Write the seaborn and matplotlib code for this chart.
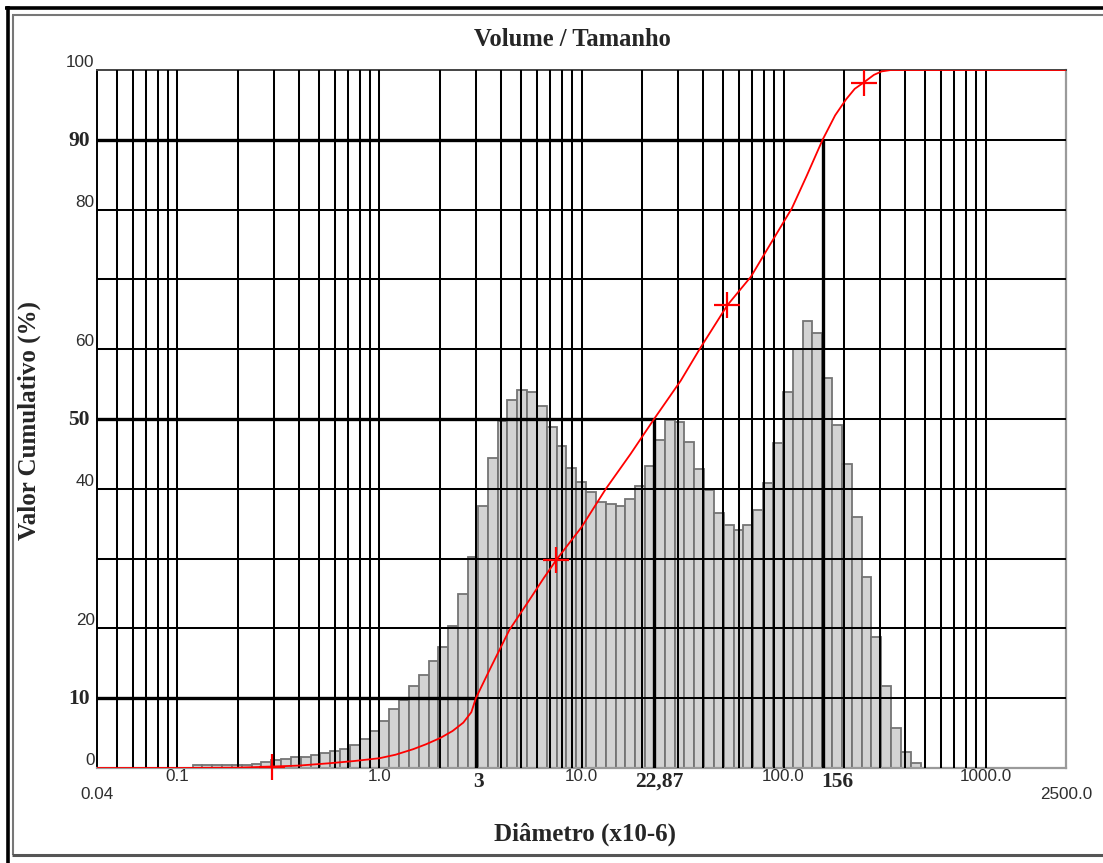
import numpy as np
import pandas as pd
import matplotlib
matplotlib.use("Agg")
import matplotlib.pyplot as plt
from matplotlib.ticker import FixedLocator, NullFormatter
from matplotlib.lines import Line2D
import seaborn as sns

# ---------------- data ----------------
# geometric size classes (um)
class_lo = 0.1188
class_hi = 476.6
n_classes = 74
# histogram heights per class (same % axis as the cumulative curve)
volume_pct = [
    0.4, 0.5, 0.5, 0.5, 0.5, 0.5, 0.6, 0.9, 1.1, 1.3,
    1.6, 1.6, 1.9, 2.2, 2.5, 2.7, 3.3, 4.2, 5.3, 6.7,
    8.4, 9.7, 11.7, 13.3, 15.4, 17.3, 20.3, 24.9, 30.3, 37.5,
    44.4, 49.7, 52.7, 54.2, 53.9, 51.8, 48.9, 46.1, 43.0, 41.0,
    39.6, 38.1, 37.8, 37.5, 38.6, 40.4, 43.3, 47.0, 49.9, 49.6,
    46.7, 42.8, 39.8, 36.6, 34.8, 34.1, 34.8, 36.9, 40.9, 46.6,
    53.8, 60.0, 64.0, 62.3, 55.9, 49.2, 43.5, 36.0, 27.4, 18.8,
    11.8, 5.8, 2.3, 0.7,
]

# cumulative curve
cum_diam = [0.04, 0.1, 0.2, 0.294, 0.4, 0.56, 0.75, 1.0, 1.2, 1.47,
            1.7, 2.0, 2.3, 2.6, 2.85, 3.0, 3.5, 4.4, 5.5, 6.5,
            7.5, 10.0, 13.2, 17.5, 22.87, 31.0, 38.4, 52.7, 69.0, 85.0,
            110.0, 130.0, 156.0, 180.0, 204.0, 225.0, 249.0, 280.0, 306.0, 340.0,
            2500.0]
cum_pct = [0.0, 0.0, 0.05, 0.2, 0.35, 0.67, 1.0, 1.4, 1.9, 2.7,
           3.4, 4.3, 5.3, 6.5, 8.0, 10.0, 14.0, 19.8, 24.0, 27.2,
           29.8, 34.5, 40.0, 45.0, 50.0, 55.5, 60.0, 66.3, 70.4, 74.8,
           80.2, 84.8, 90.0, 93.5, 95.8, 97.3, 98.2, 99.3, 99.8, 100.0,
           100.0]

marker_diam = [0.294, 7.5, 52.7, 249.0]
marker_pct = [0.2, 29.8, 66.3, 98.2]

d_vals = [3.0, 22.87, 156.0]
d_labels = ["3", "22,87", "156"]
p_vals = [10, 50, 90]

xtick_vals = [0.04, 0.1, 1.0, 10.0, 100.0, 1000.0, 2500.0]
xtick_labels = ["0.04", "0.1", "1.0", "10.0", "100.0", "1000.0", "2500.0"]
ytick_vals = [0, 20, 40, 60, 80, 100]

title = "Volume / Tamanho"
xlabel = "Diâmetro (x10-6)"
ylabel = "Valor Cumulativo (%)"

# ---------------- style ----------------
sns.set_style("white")
plt.rcParams["font.family"] = ["Liberation Sans", "DejaVu Sans"]
SERIF = ["Liberation Serif", "DejaVu Serif"]
SANS = ["Liberation Sans", "DejaVu Sans"]

W, H = 1103, 863
fig = plt.figure(figsize=(W / 100, H / 100), dpi=100, facecolor="white")
L, R, T, B = 97, 1066, 70, 768
ax = fig.add_axes([L / W, (H - B) / H, (R - L) / W, (B - T) / H])
ax.set_facecolor("white")

edges = np.geomspace(class_lo, class_hi, n_classes + 1)
centers = np.sqrt(edges[:-1] * edges[1:])
df_hist = pd.DataFrame({"diam": centers, "vol": volume_pct})
sns.histplot(data=df_hist, x="diam", weights="vol",
             bins=[float(v) for v in np.log10(edges)],
             log_scale=True, stat="count", ax=ax, color="#d3d3d3",
             edgecolor="#747474", linewidth=1.3, alpha=1.0, zorder=1)

ax.set_xscale("log")
ax.set_xlim(0.04, 2500)
ax.set_ylim(0, 100)

# grid
grid_x = [m * 10.0 ** e for e in range(-2, 3) for m in range(1, 10)
          if 0.045 < m * 10.0 ** e < 1001] + [1000.0]
ax.xaxis.remove_overlapping_locs = False
ax.yaxis.remove_overlapping_locs = False
ax.xaxis.set_major_locator(FixedLocator(xtick_vals))
ax.set_xticklabels(xtick_labels)
ax.xaxis.set_minor_locator(FixedLocator(grid_x))
ax.xaxis.set_minor_formatter(NullFormatter())
ax.yaxis.set_major_locator(FixedLocator(ytick_vals))
ax.set_yticklabels([str(v) for v in ytick_vals])
ax.yaxis.set_minor_locator(FixedLocator(list(range(10, 100, 10))))
ax.yaxis.set_minor_formatter(NullFormatter())
ax.set_axisbelow(False)
ax.grid(False)
ax.grid(which="minor", axis="both", color="black", linewidth=1.45, zorder=2.5)
ax.tick_params(axis="both", which="both", length=0)
ax.tick_params(axis="x", which="major", pad=1.0, labelsize=12.3, labelcolor="#2e2e2e")
ax.tick_params(axis="y", which="major", pad=1.7, labelsize=12.3, labelcolor="#2e2e2e")
for lab in ax.get_yticklabels():
    lab.set_verticalalignment("bottom")
    lab.set_family(SANS)
for lab in ax.get_xticklabels():
    lab.set_family(SANS)
xt = ax.xaxis.get_major_ticks()
xt[0].set_pad(13.5)
xt[-1].set_pad(13.5)

for side, col, lw in [("left", "black", 1.4), ("top", "#444444", 1.4),
                      ("right", "#9a9a9a", 1.6), ("bottom", "#9a9a9a", 1.6)]:
    ax.spines[side].set_visible(True)
    ax.spines[side].set_color(col)
    ax.spines[side].set_linewidth(lw)

ax.set_xlabel("")
ax.set_ylabel("")

# reference lines (d10, d50, d90)
for d, p in zip(d_vals, p_vals):
    ax.plot([0.04, d], [p, p], color="black", linewidth=2.4, zorder=3,
            solid_capstyle="butt")
    ax.plot([d, d], [0, p], color="black", linewidth=2.4, zorder=3,
            solid_capstyle="butt")

# cumulative curve
df_cum = pd.DataFrame({"d": cum_diam, "p": cum_pct})
sns.lineplot(data=df_cum, x="d", y="p", color="#ff0000", linewidth=1.3,
             sort=False, estimator=None, ax=ax, zorder=4)
df_mk = pd.DataFrame({"d": marker_diam, "p": marker_pct})
sns.scatterplot(data=df_mk, x="d", y="p", marker="+", s=360, color="#ff0000",
                linewidth=1.6, ax=ax, zorder=5, clip_on=False)
ax.set_xlabel("")
ax.set_ylabel("")

# bold labels
for p in p_vals:
    ax.annotate(str(p), xy=(0, p), xycoords=ax.get_yaxis_transform(),
                xytext=(-7, -1), textcoords="offset pixels", ha="right",
                va="center", fontsize=15.5, fontweight="bold", family=SERIF,
                annotation_clip=False)
label_dx = [2.5, 5, 14.5]
for d, lab, dx in zip(d_vals, d_labels, label_dx):
    ax.annotate(lab, xy=(d, 0), xycoords=ax.get_xaxis_transform(),
                xytext=(dx, -19), textcoords="offset pixels", ha="center",
                va="baseline", fontsize=15.5, fontweight="bold", family=SERIF,
                annotation_clip=False)

# titles
fig.text(572.5 / W, 1 - 46 / H, title, ha="center", va="baseline",
         fontsize=17.7, fontweight="bold", family=SERIF)
fig.text(585.5 / W, 1 - 841 / H, xlabel, ha="center", va="baseline",
         fontsize=18, fontweight="bold", family=SERIF)
fig.text(29 / W, 1 - 421 / H, ylabel, ha="center", va="center", rotation=90,
         fontsize=18, fontweight="bold", family=SERIF)

# window frame
def fline(x0, y0, x1, y1, color, lw):
    fig.add_artist(Line2D([x0 / W, x1 / W], [1 - y0 / H, 1 - y1 / H],
                          transform=fig.transFigure, color=color,
                          linewidth=lw, solid_capstyle="butt"))

fline(5, 8, W, 8, "black", 2.6)
fline(8, 6, 8, H, "black", 2.6)
fline(12, 15.5, W, 15.5, "#777777", 1.5)
fline(12.5, 15, 12.5, 855, "#777777", 1.5)
fline(12, 855, W, 855, "#555555", 2.2)

fig.savefig("out.png", dpi=100, facecolor="white")
